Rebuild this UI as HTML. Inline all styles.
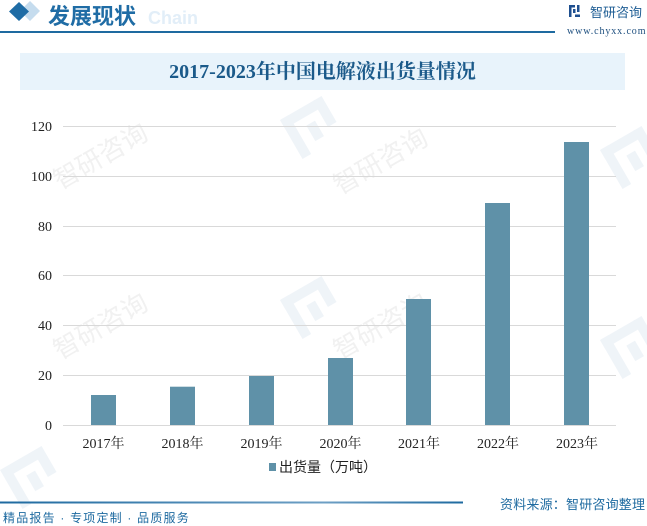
<!DOCTYPE html>
<html><head><meta charset="utf-8">
<style>
html,body{margin:0;padding:0;background:#fff;}
body{width:647px;height:524px;position:relative;overflow:hidden;font-family:"Liberation Sans","Noto Sans CJK SC",sans-serif;}
.abs{position:absolute;white-space:nowrap;}
</style></head><body>

<!-- header -->
<svg class="abs" style="left:0;top:0" width="647" height="40">
  <polygon points="30,1 40,11 30,21 20,11" fill="#c5dcee"/>
  <polygon points="19,2 29,11.5 19,21 9,11.5" fill="#1f6ca5"/>
  <text x="148" y="24" font-family="Liberation Sans, sans-serif" font-weight="bold" font-size="18" fill="#e2eef8">Chain</text>
  <rect x="0" y="31" width="555" height="2" fill="#1e6aa0"/>
  <!-- logo icon -->
  <g fill="#1e4f8f">
    <rect x="569" y="5" width="6" height="2.5"/>
    <rect x="569" y="5" width="2.5" height="12"/>
    <rect x="573" y="9" width="2.5" height="4"/>
    <rect x="577" y="5" width="2.5" height="7"/>
    <rect x="575" y="14.5" width="5" height="2.5"/>
  </g>
</svg>
<div class="abs" style="left:48px;top:-1px;font-size:22px;font-weight:bold;color:#1f6ca5;font-family:'Liberation Sans','Noto Sans CJK SC',sans-serif;">发展现状</div>
<div class="abs" style="left:590px;top:2px;font-size:13px;color:#1e5d94;">智研咨询</div>
<div class="abs" style="left:567px;top:26px;font-size:10px;color:#1e4f7f;font-family:'Liberation Serif',serif;letter-spacing:0.9px;">www.chyxx.com</div>

<!-- title box -->
<div class="abs" style="left:20px;top:53px;width:605px;height:37px;background:#e8f3fb;"></div>
<div class="abs" style="left:20px;top:60px;width:605px;text-align:center;font-size:20px;font-weight:bold;color:#1b5a8a;font-family:'Liberation Serif','Noto Serif CJK SC',serif;line-height:24px;">2017-2023年中国电解液出货量情况</div>

<!-- watermarks (faint) -->
<svg class="abs" style="left:0;top:0" width="647" height="524">
  <g fill="#eef3f8" opacity="0.9">
    <g transform="translate(280,120) rotate(-30)"><rect x="0" y="0" width="40" height="10"/><rect x="0" y="0" width="10" height="45"/><rect x="20" y="18" width="10" height="18"/><rect x="38" y="0" width="10" height="30"/></g>
    <g transform="translate(280,300) rotate(-30)"><rect x="0" y="0" width="40" height="10"/><rect x="0" y="0" width="10" height="45"/><rect x="20" y="18" width="10" height="18"/><rect x="38" y="0" width="10" height="30"/></g>
    <g transform="translate(600,150) rotate(-30)"><rect x="0" y="0" width="40" height="10"/><rect x="0" y="0" width="10" height="45"/><rect x="20" y="18" width="10" height="18"/><rect x="38" y="0" width="10" height="30"/></g>
    <g transform="translate(600,340) rotate(-30)"><rect x="0" y="0" width="40" height="10"/><rect x="0" y="0" width="10" height="45"/><rect x="20" y="18" width="10" height="18"/><rect x="38" y="0" width="10" height="30"/></g>
    <g transform="translate(0,470) rotate(-30)"><rect x="0" y="0" width="40" height="10"/><rect x="0" y="0" width="10" height="45"/><rect x="20" y="18" width="10" height="18"/><rect x="38" y="0" width="10" height="30"/></g>
  </g>
  <g fill="#f1f1f1" font-size="26" font-family="Noto Sans CJK SC, sans-serif">
    <text transform="translate(60,190) rotate(-30)">智研咨询</text>
    <text transform="translate(60,360) rotate(-30)">智研咨询</text>
    <text transform="translate(340,195) rotate(-30)">智研咨询</text>
    <text transform="translate(340,360) rotate(-30)">智研咨询</text>
  </g>
</svg>

<!-- chart -->
<svg class="abs" style="left:0;top:0" width="647" height="524">
  <g stroke="#d9d9d9" stroke-width="1">
    <line x1="63" y1="126.5" x2="616" y2="126.5"/>
    <line x1="63" y1="176.5" x2="616" y2="176.5"/>
    <line x1="63" y1="226.5" x2="616" y2="226.5"/>
    <line x1="63" y1="275.5" x2="616" y2="275.5"/>
    <line x1="63" y1="325.5" x2="616" y2="325.5"/>
    <line x1="63" y1="375.5" x2="616" y2="375.5"/>
    <line x1="63" y1="425.5" x2="616" y2="425.5"/>
  </g>
  <g fill="#5f91a8">
    <rect x="91" y="395" width="25" height="30"/>
    <rect x="170" y="386.7" width="25" height="38.3"/>
    <rect x="249" y="376" width="25" height="49"/>
    <rect x="328" y="358" width="25" height="67"/>
    <rect x="406" y="299" width="25" height="126"/>
    <rect x="485" y="203" width="25" height="222"/>
    <rect x="564" y="142" width="25" height="283"/>
  </g>
  <g font-family="Liberation Serif, serif" font-size="14" fill="#222" text-anchor="end">
    <text x="52" y="131">120</text>
    <text x="52" y="181">100</text>
    <text x="52" y="231">80</text>
    <text x="52" y="280">60</text>
    <text x="52" y="330">40</text>
    <text x="52" y="380">20</text>
    <text x="52" y="430">0</text>
  </g>
  <g font-family="Liberation Serif, Noto Serif CJK SC, serif" font-size="14" fill="#222" text-anchor="middle">
    <text x="103.5" y="448">2017年</text>
    <text x="182.5" y="448">2018年</text>
    <text x="261.5" y="448">2019年</text>
    <text x="340.5" y="448">2020年</text>
    <text x="419" y="448">2021年</text>
    <text x="498" y="448">2022年</text>
    <text x="577" y="448">2023年</text>
  </g>
  <rect x="269" y="463" width="7" height="8" fill="#5f91a8"/>
  <text x="279" y="472" font-family="Liberation Sans, Noto Sans CJK SC, sans-serif" font-size="14" fill="#222">出货量（万吨）</text>

  <!-- footer line -->
  <defs>
    <linearGradient id="fl" x1="0" x2="1" y1="0" y2="0">
      <stop offset="0" stop-color="#1e6aa0"/>
      <stop offset="0.7" stop-color="#6d9fc4"/>
      <stop offset="1" stop-color="#1e6aa0"/>
    </linearGradient>
  </defs>
  <rect x="0" y="501.5" width="463" height="2" fill="url(#fl)"/>
</svg>

<div class="abs" style="left:500px;top:494px;font-size:13px;color:#1e6aa0;letter-spacing:0.2px;">资料来源：智研咨询整理</div>
<div class="abs" style="left:3px;top:509px;font-size:12px;color:#1e6aa0;letter-spacing:1.2px;">精品报告 · 专项定制 · 品质服务</div>

</body></html>
